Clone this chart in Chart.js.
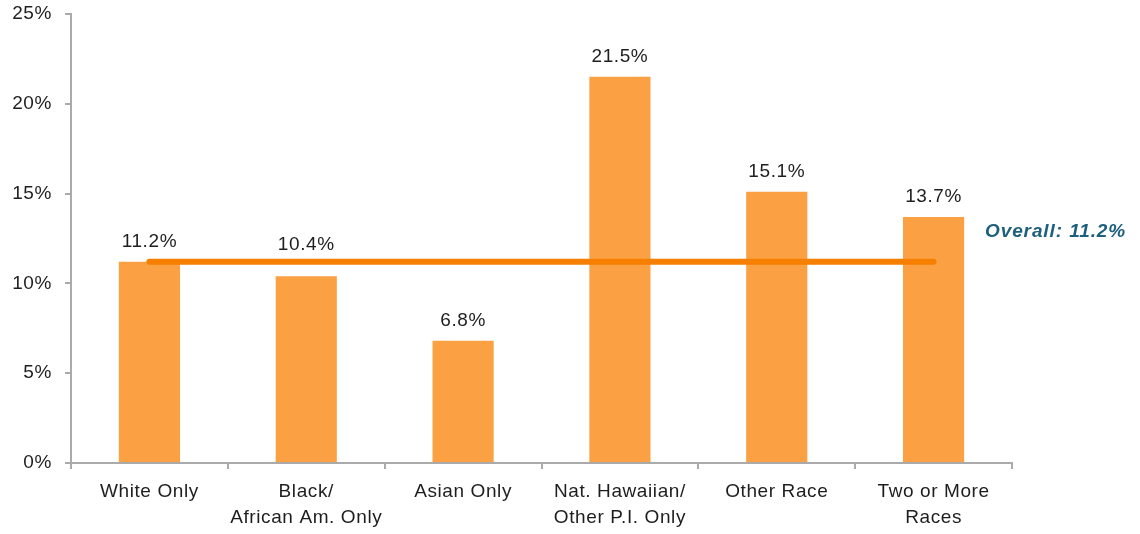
<!DOCTYPE html>
<html>
<head>
<meta charset="utf-8">
<script src="https://cdn.jsdelivr.net/npm/chart.js@4/dist/chart.umd.min.js"></script>
<style>
  html, body { margin: 0; padding: 0; background: #fff; }
  canvas { display: block; }
</style>
</head>
<body>
<canvas id="myChart" width="1140" height="534"></canvas>
<script>
// categories and values
var categories = [["White Only"], ["Black/", "African Am. Only"], ["Asian Only"],
                  ["Nat. Hawaiian/", "Other P.I. Only"], ["Other Race"], ["Two or More", "Races"]];
var rates = [11.2, 10.4, 6.8, 21.5, 15.1, 13.7];
var overall = 11.2;
var overallLine = [overall, overall, overall, overall, overall, overall];
var yTicks = [0, 5, 10, 15, 20, 25];

var FONT = "'Liberation Sans', Arial, Helvetica, sans-serif";
var SPACING = "0.6px";

// slightly wider text, like the original
var spacingPlugin = {
	id: "spacing",
	beforeUpdate: function(chart) { chart.ctx.letterSpacing = SPACING; },
	beforeDraw: function(chart) { chart.ctx.letterSpacing = SPACING; }
};

// labels over the bars and the "Overall" note
var labelPlugin = {
	id: "labels",
	afterDatasetsDraw: function(chart) {
		var ctx = chart.ctx;
		var meta = chart.getDatasetMeta(1);
		var lineY = chart.scales.y.getPixelForValue(overall);
		ctx.save();
		ctx.letterSpacing = SPACING;
		ctx.font = "19px " + FONT;
		ctx.fillStyle = "#1e1e1e";
		ctx.textAlign = "center";
		ctx.textBaseline = "alphabetic";
		meta.data.forEach(function(bar, i) {
			var y = bar.y - 15;
			// keep the label clear of the overall line if they would overlap
			if (y > lineY - 12 && y - 16 < lineY + 4) y = lineY - 12;
			ctx.fillText(rates[i].toFixed(1) + "%", bar.x, y);
		});
		ctx.font = "italic bold 19px " + FONT;
		ctx.letterSpacing = "0.9px";
		ctx.fillStyle = "#1d5f7c";
		ctx.textAlign = "left";
		ctx.textBaseline = "middle";
		ctx.fillText("Overall: " + overall.toFixed(1) + "%", chart.chartArea.right - 27, lineY - 30);
		ctx.restore();
	}
};

var ctx = document.getElementById("myChart");
var myChart = new Chart(ctx, {
	type: "bar",
	data: {
		labels: categories,
		datasets: [
			{
				type: "line",
				label: "Overall",
				data: overallLine,
				borderColor: "#f77f00",
				borderWidth: 6,
				borderCapStyle: "round",
				pointRadius: 0,
				fill: false,
				order: 0
			},
			{
				label: "Rate",
				data: rates,
				backgroundColor: "#fba144",
				barPercentage: 0.39,
				categoryPercentage: 1.0,
				order: 1
			}
		]
	},
	options: {
		responsive: false,
		animation: false,
		layout: { padding: { left: 0, right: 128, top: 14, bottom: 0 } },
		plugins: { legend: { display: false }, tooltip: { enabled: false } },
		scales: {
			x: {
				afterFit: function(scale) { scale.height = 71; },
				grid: { display: true, drawOnChartArea: false, drawTicks: true, tickLength: 6, color: "#aaa", lineWidth: 2, offset: true },
				border: { display: true, color: "#aaa", width: 2 },
				ticks: { color: "#1e1e1e", font: { family: FONT, size: 19, lineHeight: 1.35 }, maxRotation: 0, autoSkip: false, padding: 10 }
			},
			y: {
				min: 0,
				max: 25,
				afterBuildTicks: function(scale) {
					scale.ticks = yTicks.map(function(v) { return { value: v }; });
				},
				afterFit: function(scale) {
					scale.width = 71;
					scale.paddingTop = 0;
					scale.paddingBottom = 0;
				},
				grid: { display: true, drawOnChartArea: false, drawTicks: true, tickLength: 6, color: "#aaa", lineWidth: 2 },
				border: { display: true, color: "#aaa", width: 2 },
				ticks: {
					color: "#1e1e1e",
					font: { family: FONT, size: 19 },
					padding: 13,
					autoSkip: false,
					callback: function(v) { return v + "%"; }
				}
			}
		}
	},
	plugins: [spacingPlugin, labelPlugin]
});
</script>
</body>
</html>
